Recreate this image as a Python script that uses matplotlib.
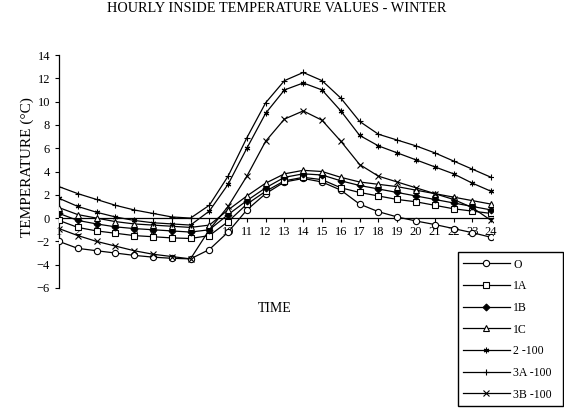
import matplotlib
matplotlib.use("Agg")
import matplotlib.pyplot as plt
from matplotlib.patches import Rectangle

hours = list(range(1, 25))

t_o = [-2.0, -2.6, -2.8, -3.0, -3.2, -3.35, -3.45, -3.5, -2.7, -1.2, 0.7, 2.1,
       3.1, 3.4, 3.1, 2.4, 1.2, 0.55, 0.1, -0.25, -0.55, -0.9, -1.25, -1.65]
t_1a = [-0.2, -0.8, -1.1, -1.3, -1.5, -1.6, -1.7, -1.75, -1.5, -0.3, 1.2, 2.3,
        3.2, 3.5, 3.3, 2.6, 2.2, 1.9, 1.6, 1.4, 1.1, 0.8, 0.6, 0.4]
t_1b = [0.4, -0.2, -0.5, -0.75, -0.9, -1.0, -1.1, -1.2, -1.0, 0.3, 1.5, 2.6,
        3.5, 3.8, 3.7, 3.2, 2.8, 2.5, 2.2, 1.9, 1.6, 1.3, 1.0, 0.7]
t_1c = [0.9, 0.3, 0.0, -0.3, -0.5, -0.6, -0.7, -0.8, -0.6, 0.7, 1.9, 3.0,
        3.8, 4.1, 4.0, 3.5, 3.1, 2.9, 2.7, 2.4, 2.1, 1.8, 1.5, 1.2]
t_2 = [1.7, 1.0, 0.5, 0.1, -0.2, -0.4, -0.5, -0.6, 0.6, 2.9, 6.0, 9.0,
       11.0, 11.6, 11.0, 9.2, 7.1, 6.2, 5.6, 5.0, 4.4, 3.8, 3.0, 2.3]
t_3a = [2.7, 2.1, 1.6, 1.1, 0.7, 0.4, 0.1, 0.0, 1.1, 3.6, 6.9, 9.9,
        11.8, 12.5, 11.8, 10.3, 8.3, 7.2, 6.7, 6.2, 5.6, 4.9, 4.2, 3.5]
t_3b = [-0.9, -1.5, -2.0, -2.4, -2.8, -3.1, -3.3, -3.5, -1.0, 1.0, 3.6, 6.6,
        8.5, 9.2, 8.4, 6.6, 4.6, 3.6, 3.1, 2.6, 2.1, 1.6, 0.9, -0.2]

series = [("O", t_o, "o", "white"),
          ("1A", t_1a, "s", "white"),
          ("1B", t_1b, "D", "black"),
          ("1C", t_1c, "^", "white"),
          ("2 -100", t_2, (6, 2, 0), "black"),
          ("3A -100", t_3a, "+", "black"),
          ("3B -100", t_3b, "x", "black")]

plt.rcParams["font.family"] = ["Liberation Serif", "DejaVu Serif"]

fig = plt.figure(figsize=(5.64, 4.12), dpi=100)
ax = fig.add_axes([59 / 564, 1 - 288 / 412, 434 / 564, 233 / 412])

handles = []
for name, vals, mk, fc in series:
    size = 4.5 if mk in ("o", "s", "^") else 4
    if mk == "D":
        size = 3.5
    h, = ax.plot(hours, vals, color="black", lw=0.9, marker=mk, markersize=size,
                 markerfacecolor=fc, markeredgecolor="black", markeredgewidth=0.8,
                 label=name, zorder=3)
    handles.append(h)

ax.set_xlim(1, 24.1)
ax.set_ylim(-6, 14)
ax.set_yticks(range(-6, 15, 2))
ax.set_xticks(hours)
ax.set_xticklabels([str(h) for h in hours])
for s in ("top", "right"):
    ax.spines[s].set_visible(False)
ax.spines["bottom"].set_position(("data", 0))
ax.spines["left"].set_linewidth(0.9)
ax.spines["bottom"].set_linewidth(0.9)
ax.tick_params(axis="both", direction="out", length=3, width=0.8, labelsize=9)
ax.tick_params(axis="x", pad=3)
ax.xaxis.set_zorder(1)

fig.text(277 / 564, 1 - 9 / 412, "HOURLY INSIDE TEMPERATURE VALUES - WINTER",
         ha="center", va="center", fontsize=10.3)
fig.text(27 / 564, 1 - 167 / 412, "TEMPERATURE (°C)", rotation=90,
         ha="center", va="center", fontsize=11)
fig.text(275 / 564, 1 - 309 / 412, "TIME", ha="center", va="center", fontsize=10)

leg = fig.legend(handles=handles, loc="upper left",
                 bbox_to_anchor=(459 / 564, 1 - 255 / 412), borderaxespad=0,
                 fontsize=8.5, frameon=False,
                 handlelength=4.0, handletextpad=0.3, labelspacing=0.82,
                 borderpad=0.3)
fig.patches.append(Rectangle((458 / 564, 1 - 406 / 412), 105 / 564, 154 / 412,
                             transform=fig.transFigure, fill=False,
                             edgecolor="black", linewidth=1.0))

fig.savefig("out.png", dpi=100)
